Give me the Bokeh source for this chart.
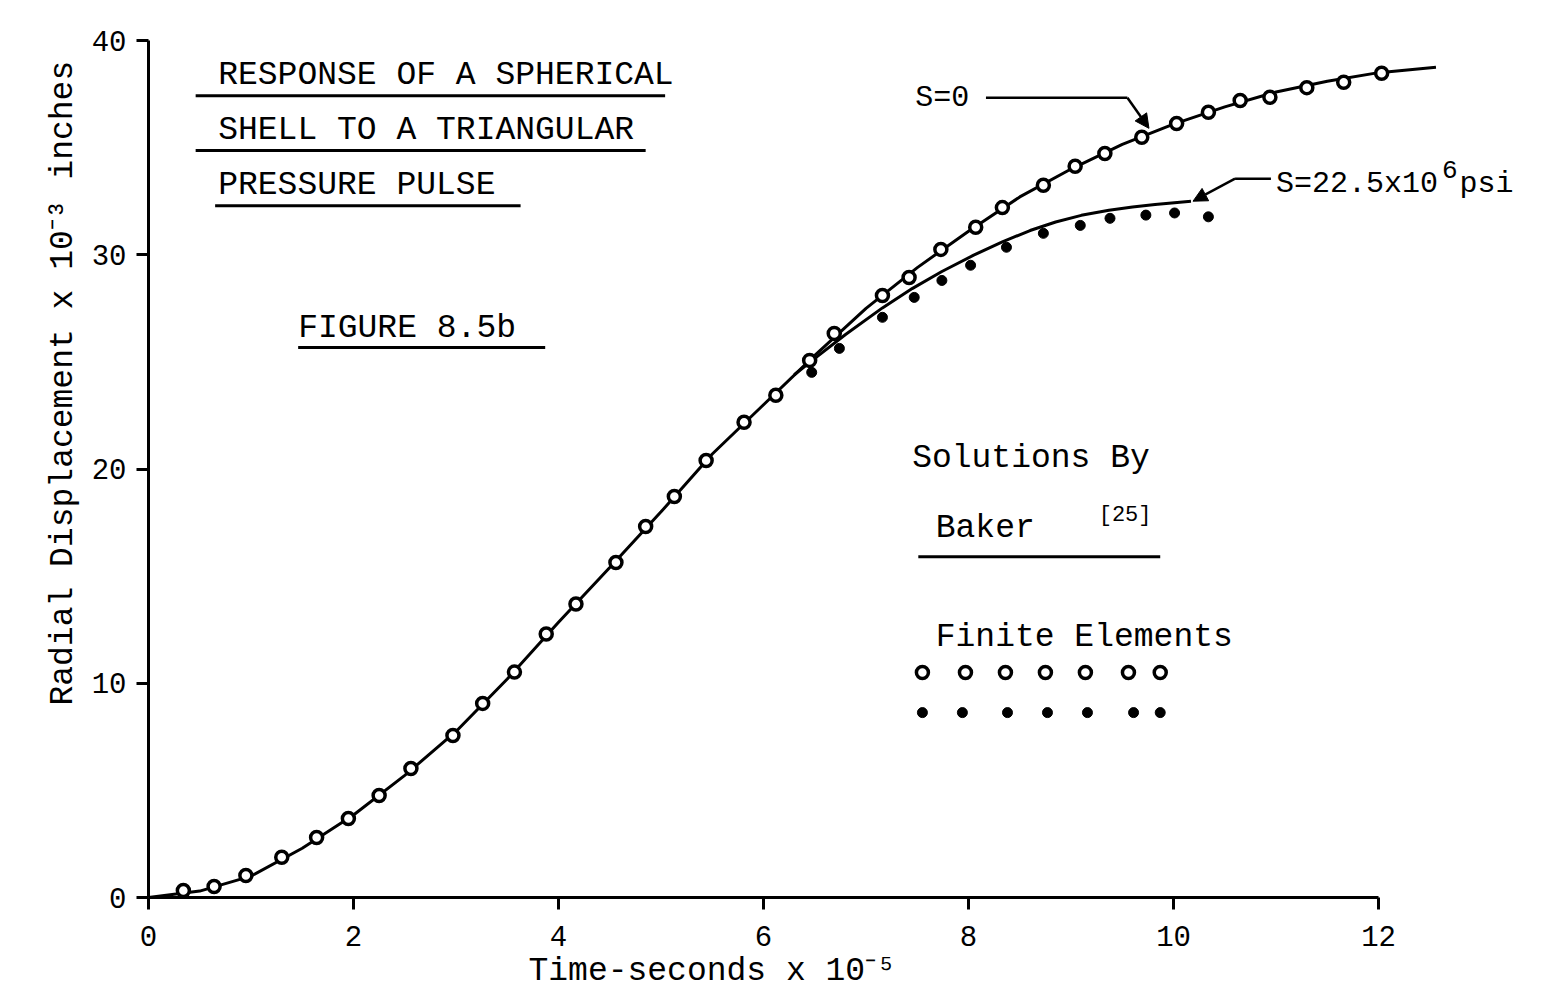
from bokeh.plotting import figure
from bokeh.models import Range1d, FixedTicker, Label, Arrow, NormalHead, Title
from bokeh.embed import file_html
from bokeh.resources import INLINE

# ---------------- data ----------------
# Baker solution, S = 0
curve_s0_t = [0, 0.5, 1, 1.5, 2, 2.5, 3, 3.5, 4, 4.5, 5, 5.5, 6, 6.5, 7, 7.5,
              8, 8.5, 9, 9.5, 10, 10.5, 11, 11.5, 12, 12.56]
curve_s0_u = [0, 0.3, 1.0, 2.3, 3.85, 5.7, 7.75, 10.2, 12.85, 15.4, 18.0, 20.7,
              23.0, 25.3, 27.5, 29.4, 31.1, 32.7, 34.0, 35.15, 36.1, 36.9, 37.6,
              38.1, 38.5, 38.75]
# Baker solution, S = 22.5x10^6 psi
curve_s22_t = [6.3, 6.51, 6.8, 7.16, 7.45, 7.74, 8.05, 8.33, 8.6, 8.85, 9.1,
               9.37, 9.6, 9.82, 10.17]
curve_s22_u = [24.4, 25.2, 26.28, 27.52, 28.42, 29.22, 29.98, 30.6, 31.13,
               31.53, 31.84, 32.08, 32.23, 32.35, 32.5]
# Finite elements, S = 0 (open circles)
fe_s0_t = [0.34, 0.64, 0.95, 1.30, 1.64, 1.95, 2.25, 2.56, 2.97, 3.26, 3.57,
           3.88, 4.17, 4.56, 4.85, 5.13, 5.44, 5.81, 6.12, 6.45, 6.69, 7.16,
           7.42, 7.73, 8.07, 8.33, 8.73, 9.04, 9.33, 9.69, 10.03, 10.34, 10.65,
           10.94, 11.30, 11.66, 12.03]
fe_s0_u = [0.33, 0.51, 1.03, 1.88, 2.80, 3.69, 4.76, 6.02, 7.56, 9.06, 10.52,
           12.3, 13.7, 15.64, 17.32, 18.72, 20.40, 22.18, 23.44, 25.07, 26.33,
           28.1, 28.94, 30.25, 31.28, 32.2, 33.24, 34.13, 34.73, 35.48, 36.13,
           36.65, 37.2, 37.35, 37.8, 38.05, 38.47]
# Finite elements, S = 22.5x10^6 psi (dots)
fe_s22_t = [6.47, 6.74, 7.16, 7.47, 7.74, 8.02, 8.37, 8.73, 9.09, 9.38, 9.73,
            10.01, 10.34]
fe_s22_u = [24.51, 25.63, 27.08, 28.01, 28.80, 29.51, 30.35, 31.00, 31.37,
            31.70, 31.85, 31.95, 31.77]

x_ticks = [0, 2, 4, 6, 8, 10, 12]
y_ticks = [0, 10, 20, 30, 40]

FONT = "Liberation Mono"
TXT = "33px"

p = figure(width=1568, height=997, output_backend="svg", toolbar_location=None,
           x_range=Range1d(0, 13.853), y_range=Range1d(0, 40),
           min_border_left=148, min_border_right=0, min_border_top=40,
           min_border_bottom=100)
p.xgrid.visible = False
p.ygrid.visible = False
p.outline_line_color = None
p.background_fill_color = "white"
p.border_fill_color = "white"

for ax in (p.xaxis[0], p.yaxis[0]):
    ax.axis_line_width = 3
    ax.axis_line_color = "black"
    ax.major_tick_line_width = 3
    ax.major_tick_line_color = "black"
    ax.major_tick_out = 12
    ax.major_tick_in = 0
    ax.minor_tick_line_color = None
    ax.major_label_text_font = FONT
    ax.major_label_text_font_size = "29px"
    ax.major_label_text_color = "black"
p.xaxis.ticker = FixedTicker(ticks=x_ticks)
p.yaxis.ticker = FixedTicker(ticks=y_ticks)
p.xaxis.bounds = (0, 12)
p.yaxis.bounds = (0, 40)
p.xaxis.major_label_standoff = 16
p.yaxis.major_label_standoff = 10

# axis titles (placed in the side panels)
p.add_layout(Title(text="Time-seconds x 10⁻⁵", align="left", offset=380,
                   text_font=FONT, text_font_size=TXT, text_font_style="normal",
                   text_color="black", standoff=4), "below")
p.add_layout(Title(text="Radial Displacement x 10⁻³ inches", align="left",
                   offset=192, text_font=FONT, text_font_size=TXT,
                   text_font_style="normal", text_color="black", standoff=14),
             "left")

# curves
p.line(curve_s0_t, curve_s0_u, line_width=3, line_color="black")
p.line(curve_s22_t, curve_s22_u, line_width=3, line_color="black")
# finite element points
p.scatter(fe_s22_t, fe_s22_u, marker="circle", size=10, fill_color="black",
          line_color="black")
p.scatter(fe_s0_t, fe_s0_u, marker="circle", size=12, fill_color="white",
          line_color="black", line_width=3.5)


def lab(x, y, text, size=TXT, angle=0.0):
    p.add_layout(Label(x=x, y=y, text=text, text_font=FONT, text_font_size=size,
                       text_baseline="middle", text_align="left", angle=angle,
                       text_color="black"))


def uline(x0, x1, y, w=3):
    p.line([x0, x1], [y, y], line_width=w, line_color="black")


# title block
lab(0.68, 38.36, "RESPONSE OF A SPHERICAL")
uline(0.46, 5.04, 37.42)
lab(0.68, 35.79, "SHELL TO A TRIANGULAR")
uline(0.46, 4.85, 34.86)
lab(0.68, 33.22, "PRESSURE PULSE")
uline(0.65, 3.63, 32.29)
lab(1.46, 26.55, "FIGURE 8.5b")
uline(1.46, 3.87, 25.67)

# curve labels with leaders
lab(7.48, 37.33, "S=0", size="30px")
uline(8.17, 9.55, 37.33, 2.5)
p.add_layout(Arrow(x_start=9.55, y_start=37.33, x_end=9.76, y_end=35.9,
                   line_width=2.5, line_color="black",
                   end=NormalHead(size=14, fill_color="black", line_color="black")))
lab(11.0, 33.32, "S=22.5x10", size="30px")
lab(12.62, 34.0, "6", size="26px")
lab(12.79, 33.32, "psi", size="30px")
uline(10.6, 10.95, 33.55, 2.5)
p.add_layout(Arrow(x_start=10.6, y_start=33.55, x_end=10.19, y_end=32.5,
                   line_width=2.5, line_color="black",
                   end=NormalHead(size=14, fill_color="black", line_color="black")))

# key
lab(7.45, 20.49, "Solutions By")
lab(7.68, 17.22, "Baker")
lab(9.27, 17.85, "[25]", size="22px")
uline(7.51, 9.87, 15.91)
lab(7.68, 12.13, "Finite Elements")
key_open_x = [7.55, 7.97, 8.36, 8.75, 9.14, 9.56, 9.87]
key_dot_x = [7.55, 7.94, 8.38, 8.77, 9.16, 9.61, 9.87]
p.scatter(key_open_x, [10.5] * 7, marker="circle", size=12, fill_color="white",
          line_color="black", line_width=3.5)
p.scatter(key_dot_x, [8.63] * 7, marker="circle", size=10, fill_color="black",
          line_color="black")

open("out.html", "w").write(file_html(p, INLINE))
